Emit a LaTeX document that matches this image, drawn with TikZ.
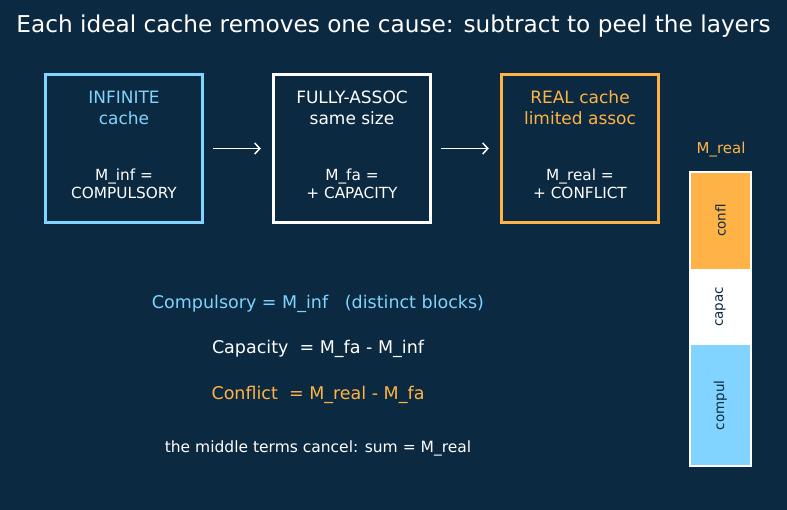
\documentclass[tikz,border=0pt]{standalone}
\usepackage{fontspec}
\setmainfont{DejaVu Sans}
\usetikzlibrary{positioning,arrows.meta}
\definecolor{bgnavy}{HTML}{0B2940}
\definecolor{skyblue}{HTML}{80D4FF}
\definecolor{amber}{HTML}{FFB347}
\tikzset{
  cachebox/.style={draw=#1, line width=3.5pt, minimum width=157pt, minimum height=148pt, inner sep=0pt},
  toptext/.style={text=#1, font=\fontsize{17}{21}\selectfont, align=center},
  bottext/.style={text=white, font=\fontsize{15.3}{18}\selectfont, align=center},
  eqtext/.style={text=#1, font=\fontsize{17.5}{21}\selectfont},
  bartext/.style={text=bgnavy, font=\fontsize{13.5}{15}\selectfont, rotate=90}
}
\begin{document}
\begin{tikzpicture}[x=1pt, y=-1pt]
	\fill[bgnavy] (0,0) rectangle (787,510);
	\useasboundingbox (0,0) rectangle (787,510);
	\node[text=white, font=\fontsize{23.2}{27}\selectfont] (title) at (393.5,26) {Each ideal cache removes one cause: subtract to peel the layers};
	% the three caches
	\node[cachebox=skyblue] (inf) at (124,148.5) {};
	\node[cachebox=white] (fa) at (352,148.5) {};
	\node[cachebox=amber] (real) at (580,148.5) {};
	\node[toptext=skyblue] (infname) at (124,107.5) {INFINITE\\cache};
	\node[toptext=white] (faname) at (352,107.5) {FULLY-ASSOC\\same size};
	\node[toptext=amber] (realname) at (580,107.5) {REAL cache\\limited assoc};
	\node[bottext] (infm) at (124,184) {M\_inf =\\COMPULSORY};
	\node[bottext] (fam) at (352,184) {M\_fa =\\+ CAPACITY};
	\node[bottext] (realm) at (580,184) {M\_real =\\+ CONFLICT};
	\draw[white, line width=1.5pt, -{Straight Barb[length=5pt,width=11pt]}] ([xshift=9pt]inf.east) -- ([xshift=-11pt]fa.west);
	\draw[white, line width=1.5pt, -{Straight Barb[length=5pt,width=11pt]}] ([xshift=9pt]fa.east) -- ([xshift=-11pt]real.west);
	% subtraction
	\node[eqtext=skyblue] (compeq) at (318,304) {Compulsory = M\_inf \ \ (distinct blocks)};
	\node[eqtext=white] (capeq) at (318,349) {Capacity \ = M\_fa - M\_inf};
	\node[eqtext=amber] (confeq) at (318,395) {Conflict \ = M\_real - M\_fa};
	\node[text=white, font=\fontsize{15.5}{18}\selectfont] (sumeq) at (318,448) {the middle terms cancel: sum = M\_real};
	% stacked bar
	\node[text=amber, font=\fontsize{15}{18}\selectfont] (barlabel) at (721,150) {M\_real};
	\fill[amber] (690,172) rectangle (751,269.5);
	\fill[white] (690,269) rectangle (751,345.5);
	\fill[skyblue] (690,345) rectangle (751,466);
	\node[bartext] (confl) at (720.5,220.5) {confl};
	\node[bartext] (capac) at (720.5,307) {capac};
	\node[bartext] (compul) at (720.5,405.5) {compul};
	\draw[white, line width=2pt] (690,172) rectangle (751,466);
\end{tikzpicture}
\end{document}
